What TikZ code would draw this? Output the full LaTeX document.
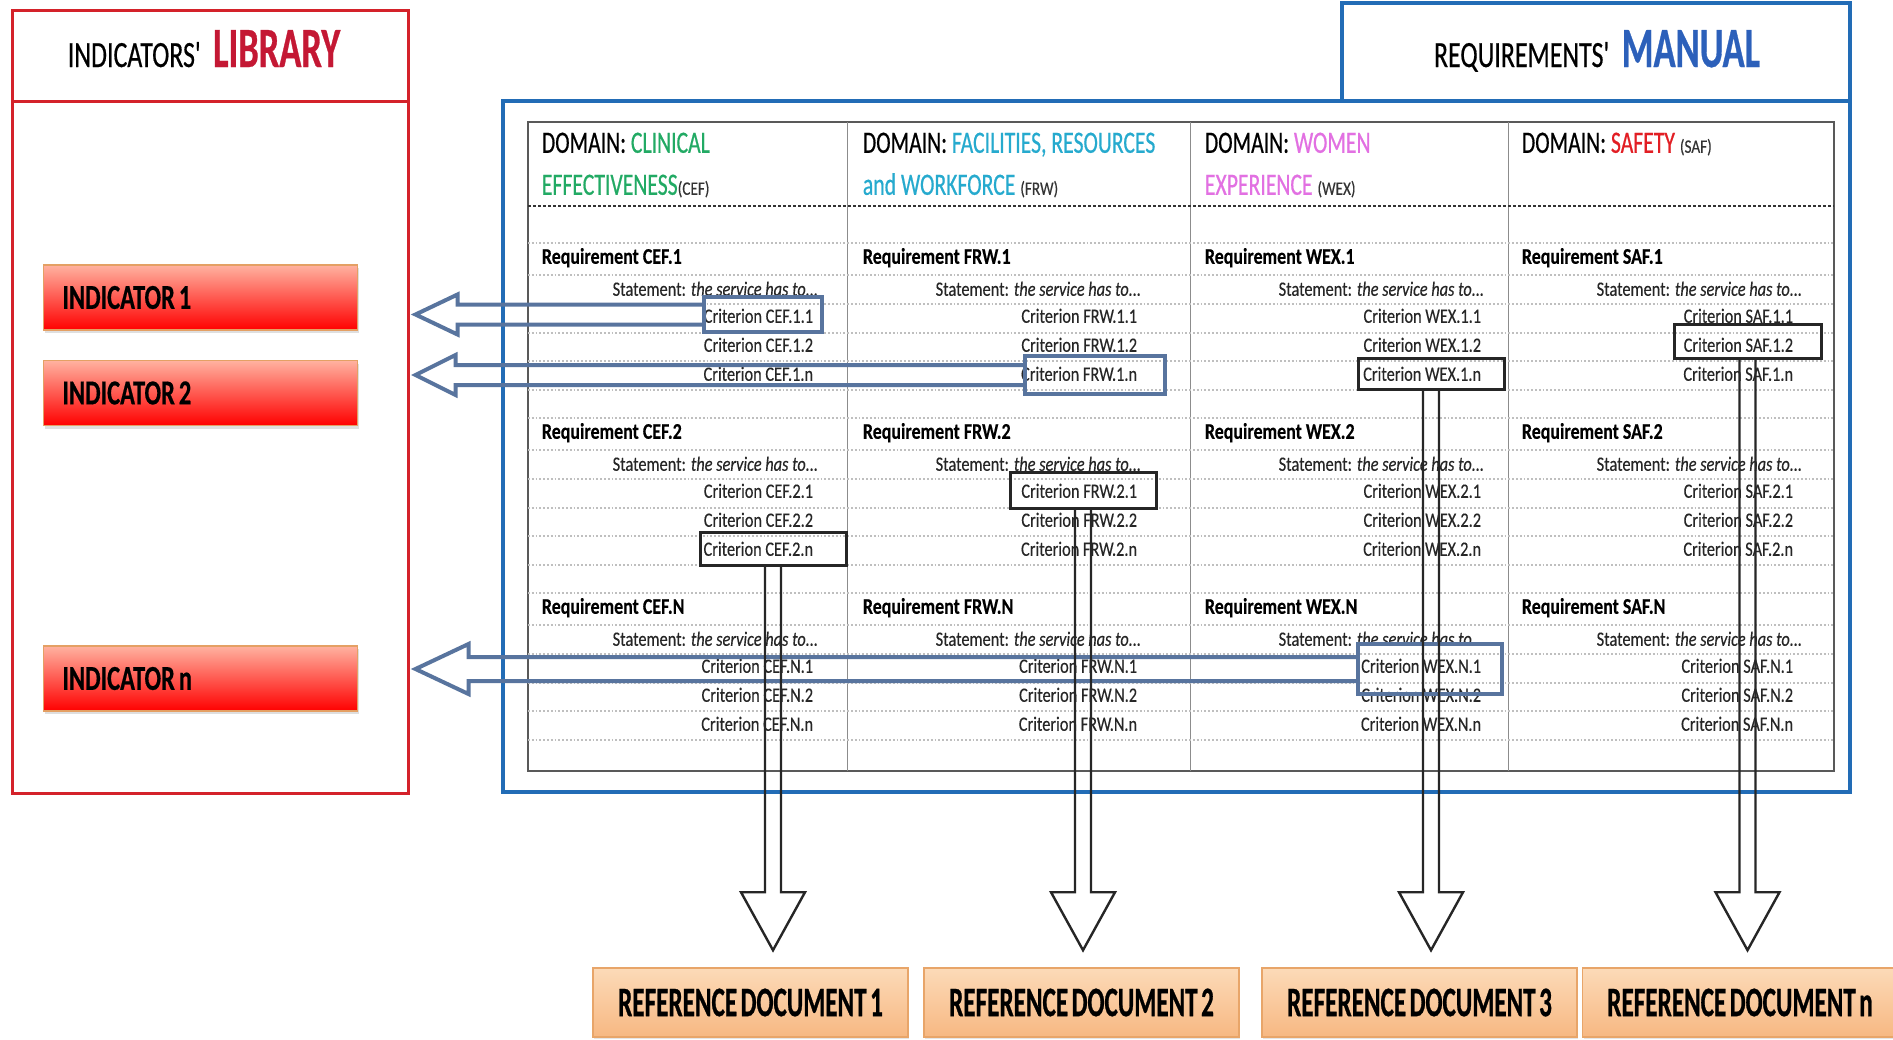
\documentclass[tikz,border=0pt]{standalone}
\usepackage{fontspec}
\setmainfont[FakeStretch=0.8,FakeBold=0.3]{Carlito}
\newfontfamily\headfont[FakeStretch=0.7,FakeBold=0.5]{Carlito}
\newfontfamily\indfont[FakeStretch=0.7,FakeBold=0.5]{Carlito}
\newfontfamily\bigfont[FakeStretch=0.64,FakeBold=0.5]{Carlito}
\newfontfamily\docfont[FakeStretch=0.6,FakeBold=0.6,WordSpace=0.6]{Carlito}
\usetikzlibrary{calc,positioning,shadows}

\definecolor{libred}{RGB}{212,34,42}
\definecolor{libtext}{RGB}{196,24,52}
\definecolor{manblue}{RGB}{34,108,182}
\definecolor{mantext}{RGB}{44,96,186}
\definecolor{steel}{RGB}{88,116,158}
\definecolor{cefgreen}{RGB}{34,170,100}
\definecolor{frwblue}{RGB}{38,170,206}
\definecolor{wexpink}{RGB}{226,112,226}
\definecolor{safred}{RGB}{226,30,36}
\definecolor{indtop}{RGB}{255,178,160}
\definecolor{indborder}{RGB}{228,160,100}
\definecolor{doctop}{RGB}{252,218,184}
\definecolor{docbot}{RGB}{247,184,130}
\definecolor{docborder}{RGB}{232,165,105}

\tikzset{
  libframe/.style={draw=libred, line width=1.5pt, inner sep=0pt},
  libline/.style={draw=libred, line width=1.5pt},
  manline/.style={draw=manblue, line width=2pt},
  tabline/.style={draw=black!65, line width=0.9pt},
  colline/.style={draw=black!45, line width=0.5pt},
  domline/.style={draw=black!80, line width=0.7pt, dash pattern=on 1.5pt off 1pt},
  gridline/.style={draw=black!25, line width=0.9pt, densely dotted},
  reqtext/.style={anchor=mid west, inner sep=0.75pt, font=\fontsize{11.2}{13}\selectfont\bfseries},
  stmtext/.style={anchor=mid east, inner sep=0.75pt, text=black!85, font=\fontsize{10.2}{12}\selectfont},
  crittext/.style={anchor=mid east, inner sep=0.75pt, text=black!85, font=\fontsize{10.2}{12}\selectfont},
  domtext/.style={anchor=mid west, inner sep=0.75pt, font=\headfont\fontsize{15.5}{18}\selectfont},
  indbox/.style={draw=indborder, line width=0.8pt, top color=indtop, middle color=red, bottom color=red,
    text width=138pt, align=left, inner xsep=9.5pt, minimum height=32.5pt,
    drop shadow={opacity=0.25, shadow xshift=0.6pt, shadow yshift=-1.5pt},
    execute at begin node={\spaceskip=2pt\relax},
    font=\indfont\bfseries\fontsize{17.5}{20}\selectfont},
  docbox/.style={draw=docborder, line width=0.8pt, top color=doctop, bottom color=docbot,
    minimum width=157.5pt, minimum height=34.5pt, inner sep=0pt,
    drop shadow={opacity=0.2, shadow xshift=0.6pt, shadow yshift=-1.2pt},
    font=\docfont\bfseries\fontsize{21}{24}\selectfont},
  selsteel/.style={draw=steel, line width=2pt, inner sep=0pt},
  selblack/.style={draw=black!85, line width=1.5pt, inner sep=0pt},
  fatsteel/.style={draw=steel, line width=2pt, line join=miter},
  fatblack/.style={draw=black!85, line width=1.2pt, line join=miter}
}

\begin{document}
\begin{tikzpicture}[x=0.5pt,y=0.5pt,yscale=-1,xscale=1]
\useasboundingbox (0,0) rectangle (1893,1039);
\fill [white] (0,0) rectangle (1893,1039);

%Shape: Rectangle (indicators' library)
\node (lib) [libframe, minimum width=198pt, minimum height=391.5pt] at (210,401.5) {};
\draw [libline] (12,101) -- (408,101);
% Text Node
\draw (204,67) node (libtitle) [anchor=base, inner sep=0.75pt] {{\headfont\fontsize{18.5}{22}\selectfont INDICATORS\textquotesingle}\hspace{5pt}{\bigfont\bfseries\fontsize{28.5}{32}\selectfont\color{libtext}LIBRARY}};

%Shape: Rectangle (requirements' manual)
\node (man) [manline, inner sep=0pt, minimum width=673.5pt, minimum height=345.5pt] at (1176.5,446.5) {};
\draw [manline] (1342,101) -- (1342,3) -- (1850,3) -- (1850,101);
% Text Node
\draw (1597,67) node (mantitle) [anchor=base, inner sep=0.75pt] {{\headfont\fontsize{18.5}{22}\selectfont REQUIREMENTS\textquotesingle}\hspace{5pt}{\bigfont\bfseries\fontsize{28.5}{32}\selectfont\color{mantext}MANUAL}};

%Shape: Indicators
\node (ind1) [indbox] at (200.5,297.5) {INDICATOR 1};
\node (ind2) [indbox] at (200.5,393) {INDICATOR 2};
\node (indn) [indbox] at (200.5,678.5) {INDICATOR n};

%Shape: Table
\draw [tabline] (528,122) rectangle (1834,771);
\draw [colline] (847,122) -- (847,771);
\draw [colline] (1190,122) -- (1190,771);
\draw [colline] (1508,122) -- (1508,771);
\draw [domline] (528,206) -- (1834,206);
%Straight Lines (rows)
\draw [gridline] (528,243) -- (1834,243);
\draw [gridline] (528,275) -- (1834,275);
\draw [gridline] (528,304) -- (1834,304);
\draw [gridline] (528,333) -- (1834,333);
\draw [gridline] (528,361) -- (1834,361);
\draw [gridline] (528,390) -- (1834,390);
\draw [gridline] (528,418) -- (1834,418);
\draw [gridline] (528,450) -- (1834,450);
\draw [gridline] (528,479) -- (1834,479);
\draw [gridline] (528,508) -- (1834,508);
\draw [gridline] (528,536) -- (1834,536);
\draw [gridline] (528,565) -- (1834,565);
\draw [gridline] (528,593) -- (1834,593);
\draw [gridline] (528,625) -- (1834,625);
\draw [gridline] (528,654) -- (1834,654);
\draw [gridline] (528,683) -- (1834,683);
\draw [gridline] (528,711) -- (1834,711);
\draw [gridline] (528,740) -- (1834,740);

% Text Node (domains)
\draw (540,148) node (domCEF) [domtext] {DOMAIN: \textcolor{cefgreen}{CLINICAL}};
\draw (540,190) node (domCEFb) [domtext] {\textcolor{cefgreen}{EFFECTIVENESS}{\normalfont\fontsize{9.5}{11}\selectfont\color{black!80}(CEF)}};
\draw (861,148) node (domFRW) [domtext] {DOMAIN: \textcolor{frwblue}{FACILITIES, RESOURCES}};
\draw (861,190) node (domFRWb) [domtext] {\textcolor{frwblue}{and WORKFORCE} {\normalfont\fontsize{9.5}{11}\selectfont\color{black!80}(FRW)}};
\draw (1203,148) node (domWEX) [domtext] {DOMAIN: \textcolor{wexpink}{WOMEN}};
\draw (1203,190) node (domWEXb) [domtext] {\textcolor{wexpink}{EXPERIENCE} {\normalfont\fontsize{9.5}{11}\selectfont\color{black!80}(WEX)}};
\draw (1520,148) node (domSAF) [domtext] {DOMAIN: \textcolor{safred}{SAFETY} {\normalfont\fontsize{9.5}{11}\selectfont\color{black!80}(SAF)}};

% Text Node (clinical effectiveness)
\draw (540,259) node (rCEF1) [reqtext] {Requirement CEF.1};
\draw (820,291) node (sCEF1) [stmtext] {Statement: \textit{the service has to...}};
\draw (815,318) node (cCEF11) [crittext] {Criterion CEF.1.1};
\draw (815,347) node (cCEF12) [crittext] {Criterion CEF.1.2};
\draw (815,376) node (cCEF1n) [crittext] {Criterion CEF.1.n};
\draw (540,434) node (rCEF2) [reqtext] {Requirement CEF.2};
\draw (820,466) node (sCEF2) [stmtext] {Statement: \textit{the service has to...}};
\draw (815,493) node (cCEF21) [crittext] {Criterion CEF.2.1};
\draw (815,522) node (cCEF22) [crittext] {Criterion CEF.2.2};
\draw (815,551) node (cCEF2n) [crittext] {Criterion CEF.2.n};
\draw (540,609) node (rCEFN) [reqtext] {Requirement CEF.N};
\draw (820,641) node (sCEFN) [stmtext] {Statement: \textit{the service has to...}};
\draw (815,668) node (cCEFN1) [crittext] {Criterion CEF.N.1};
\draw (815,697) node (cCEFN2) [crittext] {Criterion CEF.N.2};
\draw (815,726) node (cCEFNn) [crittext] {Criterion CEF.N.n};

% Text Node (facilities, resources and workforce)
\draw (861,259) node (rFRW1) [reqtext] {Requirement FRW.1};
\draw (1143,291) node (sFRW1) [stmtext] {Statement: \textit{the service has to...}};
\draw (1139,318) node (cFRW11) [crittext] {Criterion FRW.1.1};
\draw (1139,347) node (cFRW12) [crittext] {Criterion FRW.1.2};
\draw (1139,376) node (cFRW1n) [crittext] {Criterion FRW.1.n};
\draw (861,434) node (rFRW2) [reqtext] {Requirement FRW.2};
\draw (1143,466) node (sFRW2) [stmtext] {Statement: \textit{the service has to...}};
\draw (1139,493) node (cFRW21) [crittext] {Criterion FRW.2.1};
\draw (1139,522) node (cFRW22) [crittext] {Criterion FRW.2.2};
\draw (1139,551) node (cFRW2n) [crittext] {Criterion FRW.2.n};
\draw (861,609) node (rFRWN) [reqtext] {Requirement FRW.N};
\draw (1143,641) node (sFRWN) [stmtext] {Statement: \textit{the service has to...}};
\draw (1139,668) node (cFRWN1) [crittext] {Criterion FRW.N.1};
\draw (1139,697) node (cFRWN2) [crittext] {Criterion FRW.N.2};
\draw (1139,726) node (cFRWNn) [crittext] {Criterion FRW.N.n};

% Text Node (women experience)
\draw (1203,259) node (rWEX1) [reqtext] {Requirement WEX.1};
\draw (1486,291) node (sWEX1) [stmtext] {Statement: \textit{the service has to...}};
\draw (1483,318) node (cWEX11) [crittext] {Criterion WEX.1.1};
\draw (1483,347) node (cWEX12) [crittext] {Criterion WEX.1.2};
\draw (1483,376) node (cWEX1n) [crittext] {Criterion WEX.1.n};
\draw (1203,434) node (rWEX2) [reqtext] {Requirement WEX.2};
\draw (1486,466) node (sWEX2) [stmtext] {Statement: \textit{the service has to...}};
\draw (1483,493) node (cWEX21) [crittext] {Criterion WEX.2.1};
\draw (1483,522) node (cWEX22) [crittext] {Criterion WEX.2.2};
\draw (1483,551) node (cWEX2n) [crittext] {Criterion WEX.2.n};
\draw (1203,609) node (rWEXN) [reqtext] {Requirement WEX.N};
\draw (1486,641) node (sWEXN) [stmtext] {Statement: \textit{the service has to...}};
\draw (1483,668) node (cWEXN1) [crittext] {Criterion WEX.N.1};
\draw (1483,697) node (cWEXN2) [crittext] {Criterion WEX.N.2};
\draw (1483,726) node (cWEXNn) [crittext] {Criterion WEX.N.n};

% Text Node (safety)
\draw (1520,259) node (rSAF1) [reqtext] {Requirement SAF.1};
\draw (1804,291) node (sSAF1) [stmtext] {Statement: \textit{the service has to...}};
\draw (1795,318) node (cSAF11) [crittext] {Criterion SAF.1.1};
\draw (1795,347) node (cSAF12) [crittext] {Criterion SAF.1.2};
\draw (1795,376) node (cSAF1n) [crittext] {Criterion SAF.1.n};
\draw (1520,434) node (rSAF2) [reqtext] {Requirement SAF.2};
\draw (1804,466) node (sSAF2) [stmtext] {Statement: \textit{the service has to...}};
\draw (1795,493) node (cSAF21) [crittext] {Criterion SAF.2.1};
\draw (1795,522) node (cSAF22) [crittext] {Criterion SAF.2.2};
\draw (1795,551) node (cSAF2n) [crittext] {Criterion SAF.2.n};
\draw (1520,609) node (rSAFN) [reqtext] {Requirement SAF.N};
\draw (1804,641) node (sSAFN) [stmtext] {Statement: \textit{the service has to...}};
\draw (1795,668) node (cSAFN1) [crittext] {Criterion SAF.N.1};
\draw (1795,697) node (cSAFN2) [crittext] {Criterion SAF.N.2};
\draw (1795,726) node (cSAFNn) [crittext] {Criterion SAF.N.n};

%Shape: Reference documents
\node (doc1) [docbox] at (750.5,1002.5) {REFERENCE DOCUMENT 1};
\node (doc2) [docbox] at (1081.5,1002.5) {REFERENCE DOCUMENT 2};
\node (doc3) [docbox] at (1419.5,1002.5) {REFERENCE DOCUMENT 3};
\node (docn) [docbox] at (1740,1002.5) {REFERENCE DOCUMENT n};

%Shape: Rectangle (selected criteria)
\node (selA) [selsteel, minimum width=59pt, minimum height=17.5pt] at (763,314.5) {};
\node (selB) [selsteel, minimum width=70pt, minimum height=19pt] at (1095,375) {};
\node (selC) [selsteel, minimum width=72pt, minimum height=25pt] at (1430,669) {};
\node (selD) [selblack, minimum width=73pt, minimum height=16.5pt] at (773,548.5) {};
\node (selE) [selblack, minimum width=73pt, minimum height=18pt] at (1083,490) {};
\node (selF) [selblack, minimum width=73pt, minimum height=15.5pt] at (1431,373.5) {};
\node (selG) [selblack, minimum width=73.5pt, minimum height=17pt] at (1747.5,341) {};

%Straight Lines (criteria to indicators)
\coordinate (tipA) at ($(lib.east |- selA.west)+(6,0)$);
\draw [fatsteel] ($(selA.west)+(0,-10)$) -- ($(tipA)+(42,-10)$) -- ($(tipA)+(42,-20)$) -- (tipA) -- ($(tipA)+(42,20)$) -- ($(tipA)+(42,10)$) -- ($(selA.west)+(0,10)$);
\coordinate (tipB) at ($(lib.east |- selB.west)+(6,0)$);
\draw [fatsteel] ($(selB.west)+(0,-10)$) -- ($(tipB)+(40,-10)$) -- ($(tipB)+(40,-20)$) -- (tipB) -- ($(tipB)+(40,20)$) -- ($(tipB)+(40,10)$) -- ($(selB.west)+(0,10)$);
\coordinate (tipC) at ($(lib.east |- selC.west)+(6,0)$);
\draw [fatsteel] ($(selC.west)+(0,-12)$) -- ($(tipC)+(53,-12)$) -- ($(tipC)+(53,-25)$) -- (tipC) -- ($(tipC)+(53,25)$) -- ($(tipC)+(53,12)$) -- ($(selC.west)+(0,12)$);

%Straight Lines (criteria to reference documents)
\coordinate (tipD) at ($(selD.south |- doc1.north)+(0,-17)$);
\draw [fatblack] ($(selD.south)+(-8,0)$) -- ($(tipD)+(-8,-58)$) -- ($(tipD)+(-32,-58)$) -- (tipD) -- ($(tipD)+(32,-58)$) -- ($(tipD)+(8,-58)$) -- ($(selD.south)+(8,0)$);
\coordinate (tipE) at ($(selE.south |- doc2.north)+(0,-17)$);
\draw [fatblack] ($(selE.south)+(-8,0)$) -- ($(tipE)+(-8,-58)$) -- ($(tipE)+(-32,-58)$) -- (tipE) -- ($(tipE)+(32,-58)$) -- ($(tipE)+(8,-58)$) -- ($(selE.south)+(8,0)$);
\coordinate (tipF) at ($(selF.south |- doc3.north)+(0,-17)$);
\draw [fatblack] ($(selF.south)+(-8,0)$) -- ($(tipF)+(-8,-58)$) -- ($(tipF)+(-32,-58)$) -- (tipF) -- ($(tipF)+(32,-58)$) -- ($(tipF)+(8,-58)$) -- ($(selF.south)+(8,0)$);
\coordinate (tipG) at ($(selG.south |- docn.north)+(0,-17)$);
\draw [fatblack] ($(selG.south)+(-8,0)$) -- ($(tipG)+(-8,-58)$) -- ($(tipG)+(-32,-58)$) -- (tipG) -- ($(tipG)+(32,-58)$) -- ($(tipG)+(8,-58)$) -- ($(selG.south)+(8,0)$);

\end{tikzpicture}
\end{document}
